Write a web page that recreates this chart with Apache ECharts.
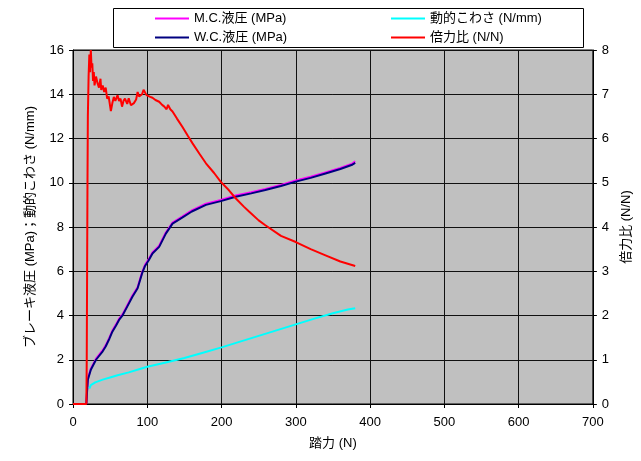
<!DOCTYPE html>
<html lang="ja">
<head>
<meta charset="utf-8">
<style>
  html, body { margin: 0; padding: 0; background: #fff; }
  #chart { width: 641px; height: 461px; }
</style>
</head>
<body>
<div id="chart"></div>
<script type="text/javascript" src="https://cdn.jsdelivr.net/npm/echarts@6.0.0/dist/echarts.min.js"></script>
<script type="text/javascript">
// 踏力 (N) に対する各値
var xTicks = [0, 100, 200, 300, 400, 500, 600, 700];
var leftTicks = [0, 2, 4, 6, 8, 10, 12, 14, 16];
var rightTicks = [0, 1, 2, 3, 4, 5, 6, 7, 8];

var names = ['M.C.液圧 (MPa)', 'W.C.液圧 (MPa)', '動的こわさ (N/mm)', '倍力比 (N/N)'];

// 液圧
var wcForce = [18, 19, 20, 24, 31, 40, 44, 49, 53, 58, 62, 67, 73, 80, 87, 93, 97, 102, 107, 116, 125, 134, 147, 160, 179, 199, 219, 240, 259, 280, 300, 320, 340, 360, 375, 380];
var wcPress = [0, 0.6, 1.1, 1.55, 2.0, 2.38, 2.6, 2.95, 3.27, 3.55, 3.8, 4.02, 4.4, 4.85, 5.23, 5.9, 6.24, 6.5, 6.8, 7.1, 7.7, 8.15, 8.42, 8.7, 9.0, 9.17, 9.37, 9.52, 9.67, 9.85, 10.05, 10.22, 10.42, 10.62, 10.8, 10.9];
var mcForce = [18, 19, 20, 24, 31, 40, 44, 49, 53, 58, 62, 67, 73, 80, 87, 93, 97, 102, 107, 116, 125, 134, 147, 160, 179, 199, 219, 240, 259, 280, 300, 320, 340, 360, 375, 380];
var mcPress = [0, 0.65, 1.15, 1.6, 2.05, 2.43, 2.65, 3.0, 3.32, 3.6, 3.85, 4.07, 4.45, 4.9, 5.28, 5.95, 6.29, 6.55, 6.85, 7.15, 7.75, 8.2, 8.47, 8.75, 9.05, 9.22, 9.42, 9.57, 9.72, 9.9, 10.1, 10.27, 10.47, 10.67, 10.85, 10.97];

// 動的こわさ
var stiffForce = [22, 24, 30, 40, 50, 60, 75, 90, 100, 125, 150, 175, 200, 225, 250, 275, 300, 325, 350, 370, 380];
var stiffness = [0.7, 0.85, 0.98, 1.1, 1.2, 1.3, 1.43, 1.58, 1.68, 1.88, 2.08, 2.32, 2.56, 2.82, 3.08, 3.34, 3.6, 3.86, 4.1, 4.27, 4.33];

// 倍力比（右軸）
var ratioForce = [0, 18, 18.5, 19, 19.5, 20, 21, 22, 23, 24, 25, 26, 27, 28, 29, 31, 33, 35, 37, 38, 40, 42, 44, 46, 48, 51, 53, 55, 57, 60, 62, 64, 66, 68, 70, 73, 75, 78, 80, 82, 85, 87, 89, 91, 93, 95, 97, 99, 101, 104, 107, 111, 116, 120, 123, 126, 128, 131, 134, 140, 147, 155, 161, 170, 179, 190, 199, 210, 219, 230, 237, 250, 259, 280, 300, 320, 340, 360, 370, 380];
var ratio = [0, 0, 1, 3, 5, 6.5, 7.4, 7.9, 7.5, 8.0, 7.6, 7.7, 7.3, 7.5, 7.2, 7.4, 7.25, 7.15, 7.35, 7.1, 7.2, 7.05, 7.15, 6.9, 6.95, 6.62, 6.8, 6.94, 6.85, 6.98, 6.85, 6.9, 6.72, 6.85, 6.9, 6.78, 6.91, 6.75, 6.72, 6.8, 6.88, 7.05, 6.95, 6.98, 7.0, 7.1, 7.13, 6.98, 7.02, 6.94, 6.92, 6.87, 6.83, 6.76, 6.72, 6.66, 6.76, 6.66, 6.61, 6.45, 6.27, 6.05, 5.89, 5.66, 5.44, 5.22, 5.02, 4.83, 4.65, 4.46, 4.35, 4.15, 4.04, 3.8, 3.66, 3.5, 3.36, 3.22, 3.17, 3.12];

function pairs(xs, ys) {
  var out = [];
  for (var i = 0; i < xs.length; i++) out.push([xs[i], ys[i]]);
  return out;
}

var FONT = "'Liberation Sans', 'Noto Sans CJK JP', sans-serif";
var myChart = echarts.init(document.getElementById('chart'), null, { renderer: 'canvas' });

var axisCommon = {
  axisLine: { show: true, lineStyle: { color: '#000', width: 1 } },
  axisTick: { show: true, length: 4, lineStyle: { color: '#000' } },
  axisLabel: { color: '#000', fontSize: 13, fontFamily: FONT },
  nameTextStyle: { color: '#000', fontSize: 13, fontFamily: FONT }
};

var option = {
  backgroundColor: '#fff',
  animation: false,
  textStyle: { fontFamily: FONT },
  graphic: [{
    type: 'rect',
    left: 113, top: 8,
    shape: { width: 470, height: 39 },
    style: { fill: '#fff', stroke: '#000', lineWidth: 1 },
    z: 0
  }],
  legend: [{
    data: [names[0], names[1]],
    orient: 'vertical',
    left: 155, top: 9,
    padding: 0,
    icon: 'rect',
    itemWidth: 34, itemHeight: 2,
    itemGap: 0, itemTextGap: 4,
    textStyle: { color: '#000', fontSize: 13, lineHeight: 19, fontFamily: FONT }
  }, {
    data: [names[2], names[3]],
    orient: 'vertical',
    left: 391, top: 9,
    padding: 0,
    icon: 'rect',
    itemWidth: 34, itemHeight: 2,
    itemGap: 0, itemTextGap: 4,
    textStyle: { color: '#000', fontSize: 13, lineHeight: 19, fontFamily: FONT }
  }],
  grid: {
    left: 73, right: 46, top: 50, bottom: 57,
    show: true,
    backgroundColor: '#C0C0C0',
    borderColor: '#000',
    borderWidth: 1
  },
  xAxis: Object.assign({}, axisCommon, {
    type: 'value',
    min: xTicks[0], max: xTicks[xTicks.length - 1], interval: 100,
    name: '踏力 (N)',
    nameLocation: 'middle',
    nameGap: 33,
    axisLabel: Object.assign({}, axisCommon.axisLabel, { margin: 12 }),
    splitLine: { show: true, lineStyle: { color: '#111', width: 1 } }
  }),
  yAxis: [Object.assign({}, axisCommon, {
    type: 'value',
    min: leftTicks[0], max: leftTicks[leftTicks.length - 1], interval: 2,
    name: 'ブレーキ液圧 (MPa)；動的こわさ (N/mm)',
    nameLocation: 'middle',
    nameGap: 36,
    axisLabel: Object.assign({}, axisCommon.axisLabel, { margin: 9 }),
    splitLine: { show: true, lineStyle: { color: '#111', width: 1 } }
  }), Object.assign({}, axisCommon, {
    type: 'value',
    position: 'right',
    min: rightTicks[0], max: rightTicks[rightTicks.length - 1], interval: 1,
    name: '倍力比 (N/N)',
    nameLocation: 'middle',
    nameRotate: 90,
    nameGap: 25,
    axisLabel: Object.assign({}, axisCommon.axisLabel, { margin: 9 }),
    splitLine: { show: false }
  })],
  series: [{
    name: names[0],
    type: 'line',
    data: pairs(mcForce, mcPress),
    showSymbol: false, symbol: 'none',
    lineStyle: { color: '#FF00FF', width: 2 },
    itemStyle: { color: '#FF00FF' },
    z: 2
  }, {
    name: names[1],
    type: 'line',
    data: pairs(wcForce, wcPress),
    showSymbol: false, symbol: 'none',
    lineStyle: { color: '#000080', width: 2 },
    itemStyle: { color: '#000080' },
    z: 3
  }, {
    name: names[2],
    type: 'line',
    data: pairs(stiffForce, stiffness),
    showSymbol: false, symbol: 'none',
    lineStyle: { color: '#00FFFF', width: 2 },
    itemStyle: { color: '#00FFFF' },
    z: 4
  }, {
    name: names[3],
    type: 'line',
    yAxisIndex: 1,
    data: pairs(ratioForce, ratio),
    showSymbol: false, symbol: 'none',
    lineStyle: { color: '#FF0000', width: 2 },
    itemStyle: { color: '#FF0000' },
    z: 5
  }]
};

myChart.setOption(option);
</script>
</body>
</html>
